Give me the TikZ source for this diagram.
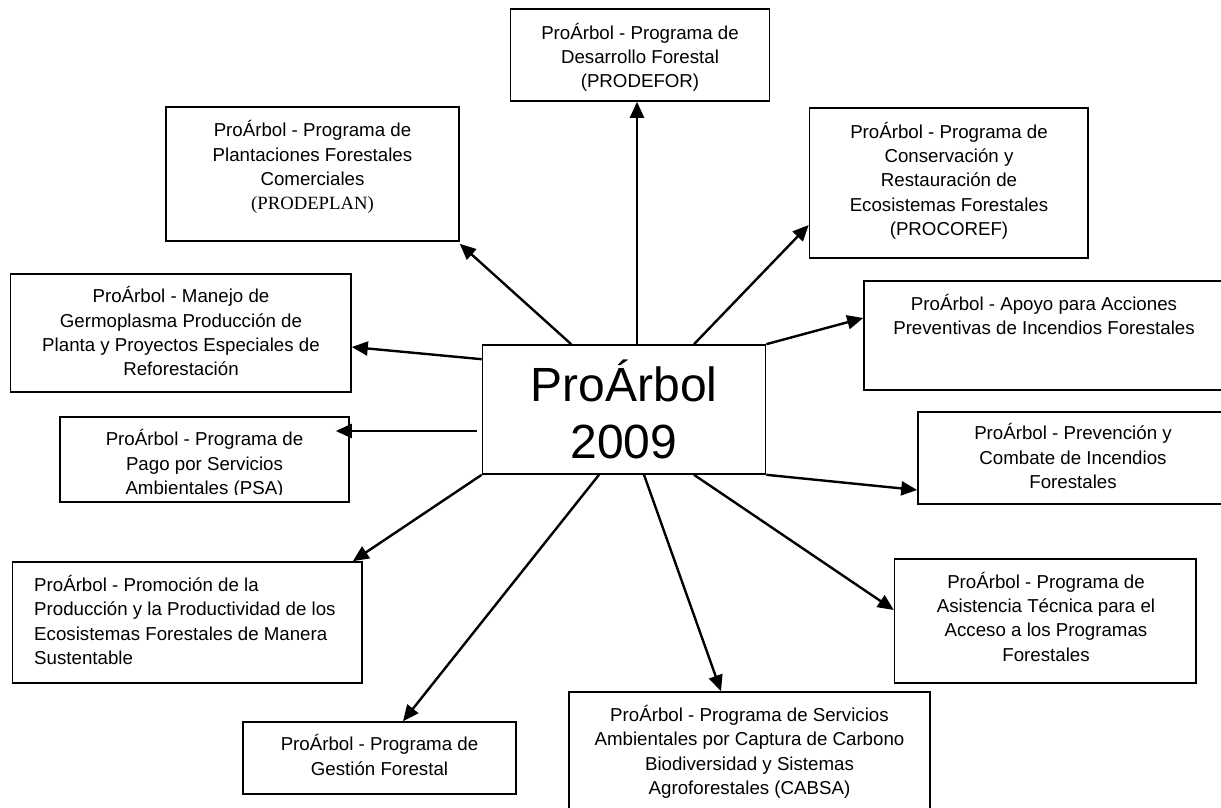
\documentclass[tikz,border=0pt]{standalone}
\usepackage{fontspec}
\setmainfont{Liberation Sans}
\newfontfamily\serifpl{Liberation Serif}
\usetikzlibrary{arrows.meta}
\begin{document}
\begin{tikzpicture}[x=1pt,y=-1pt,
  box/.style={draw, line width=1.6pt, inner sep=0pt},
  txt/.style={inner sep=0pt, align=center, font=\fontsize{18.7}{24.3}\selectfont},
  big/.style={inner sep=0pt, anchor=base, font=\fontsize{48}{57}\selectfont},
  arr/.style={line width=2.4pt, -{Triangle[length=16pt,width=14pt]}}]
\useasboundingbox (0,0) rectangle (1221,808);
\clip (0,0) rectangle (1221,808);
% centre
\node[box, minimum width=283pt, minimum height=129pt] (c) at (624,409.5) {};
\node[big] (ca) at (624,401.5) {ProÁrbol};
\node[big] (cb) at (624,458.5) {2009};
% boxes
\node[box, minimum width=259pt, minimum height=92pt] (b1) at (640,55) {};
\node[box, minimum width=293pt, minimum height=134pt] (b2) at (312.5,174) {};
\node[box, minimum width=278.5pt, minimum height=150pt] (b3) at (948.75,183) {};
\node[box, minimum width=360pt, minimum height=109pt] (b4) at (1044,335.5) {};
\node[box, minimum width=340.5pt, minimum height=118pt] (b5) at (180.75,333) {};
\node[box, minimum width=289pt, minimum height=85pt] (b6) at (204.5,459.5) {};
\node[box, minimum width=310pt, minimum height=92pt] (b7) at (1073,458) {};
\node[box, minimum width=349.5pt, minimum height=121pt] (b8) at (187.25,622.5) {};
\node[box, minimum width=301.4pt, minimum height=124pt] (b9) at (1045.3,621) {};
\node[box, minimum width=273pt, minimum height=72pt] (b10) at (379.5,758) {};
\node[box, minimum width=361pt, minimum height=138pt] (b11) at (749.5,761) {};
% texts
\node[txt] (t1) at (640,58.5) {\strut ProÁrbol - Programa de\\Desarrollo Forestal\\(PRODEFOR)\strut};
\node[txt] (t2) at (312.5,168.5) {\strut ProÁrbol - Programa de\\Plantaciones Forestales\\Comerciales\\{\serifpl (PRODEPLAN)}\strut};
\node[txt] (t3) at (949,182) {\strut ProÁrbol - Programa de\\Conservación y\\Restauración de\\Ecosistemas Forestales\\(PROCOREF)\strut};
\node[txt] (t4) at (1044,317.5) {\strut ProÁrbol - Apoyo para Acciones\\Preventivas de Incendios Forestales\strut};
\node[txt] (t5) at (181,334.3) {\strut ProÁrbol - Manejo de\\Germoplasma Producción de\\Planta y Proyectos Especiales de\\Reforestación\strut};
\begin{scope}
\clip (60,417) rectangle (349,494);
\node[txt] (t6) at (204.5,465.3) {\strut ProÁrbol - Programa de\\Pago por Servicios\\Ambientales (PSA)\strut};
\end{scope}
\node[txt] (t7) at (1073,459.3) {\strut ProÁrbol - Prevención y\\Combate de Incendios\\Forestales\strut};
\node[txt, align=left, anchor=west] (t8) at (34,623) {\strut ProÁrbol - Promoción de la\\Producción y la Productividad de los\\Ecosistemas Forestales de Manera\\Sustentable\strut};
\node[txt] (t9) at (1046,619.75) {\strut ProÁrbol - Programa de\\Asistencia Técnica para el\\Acceso a los Programas\\Forestales\strut};
\node[txt] (t10) at (379.5,758) {\strut ProÁrbol - Programa de\\Gestión Forestal\strut};
\node[txt] (t11) at (749.5,753.25) {\strut ProÁrbol - Programa de Servicios\\Ambientales por Captura de Carbono\\Biodiversidad y Sistemas\\Agroforestales (CABSA)\strut};
% arrows
\draw[arr] ([xshift=13pt]c.north) -- ([xshift=-3pt]b1.south);
\draw[arr] ([xshift=89.5pt]c.north west) -- ([yshift=-2pt]b2.south east);
\draw[arr] ([xshift=70pt]c.north) -- ([yshift=-42pt]b3.west);
\draw[arr] (c.north east) -- ([yshift=17.5pt]b4.west);
\draw[arr] ([yshift=-15pt]c.north west) -- ([yshift=-14pt]b5.east);
\draw[arr] ([xshift=-4.5pt,yshift=-21.5pt]c.west) -- ([xshift=-14pt,yshift=28.5pt]b6.east);
\draw[arr] (c.south west) -- ([xshift=-10pt]b8.north east);
\draw[arr] ([xshift=-25pt]c.south) -- ([xshift=23.5pt]b10.north);
\draw[arr] ([xshift=20pt]c.south) -- ([xshift=-28.5pt]b11.north);
\draw[arr] ([xshift=70pt]c.south) -- ([yshift=11pt]b9.west);
\draw[arr] (c.south east) -- ([yshift=-32pt]b7.west);
\end{tikzpicture}
\end{document}
